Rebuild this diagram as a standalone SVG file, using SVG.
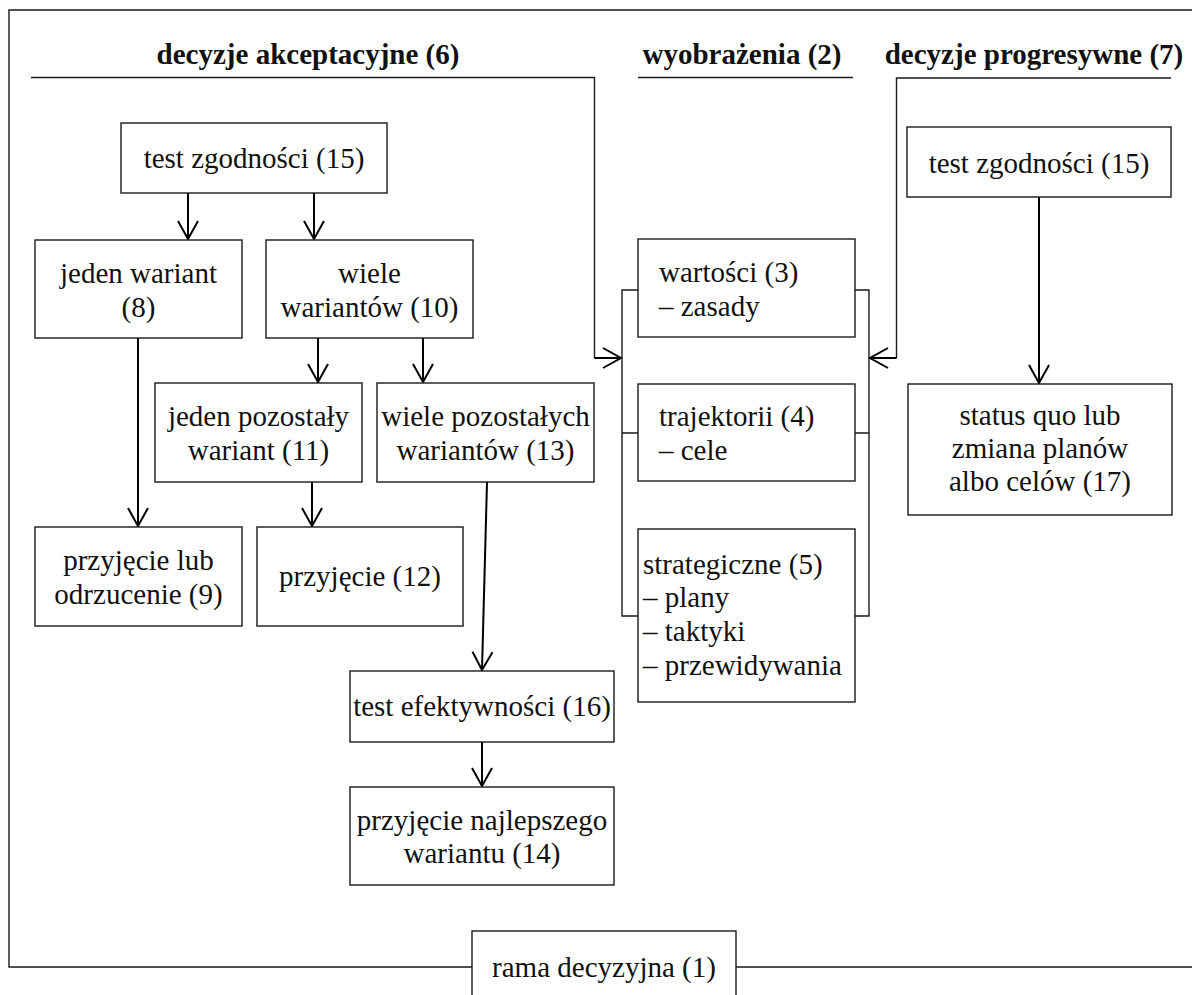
<svg xmlns="http://www.w3.org/2000/svg" width="1192" height="995" viewBox="0 0 1192 995">
  <style>
    .box { fill: #fff; stroke: #1a1a1a; stroke-width: 1.4; }
    .t { font-family: "Liberation Serif", "Times New Roman", serif; font-size: 29px; fill: #111; }
    .c { text-anchor: middle; }
    .h { font-weight: bold; text-anchor: middle; }
    .frame { fill: none; stroke: #1a1a1a; stroke-width: 1.4; }
    .arrow { fill: none; stroke: #000; stroke-width: 2; marker-end: url(#vhead); }
  </style>
  <defs>
    <!-- open V arrowhead -->
    <marker id="vhead" markerUnits="userSpaceOnUse" markerWidth="24" markerHeight="24" viewBox="-20 -12 22 24" refX="0" refY="0" orient="auto">
      <path d="M-18,-10 L0,0 L-18,10" fill="none" stroke="#000" stroke-width="2"/>
    </marker>
  </defs>

  <rect width="1192" height="995" fill="#fff"/>

  <!-- outer decision frame -->
  <g id="frame">
    <path class="frame" d="M1192,10 H9 V967 H472 M736,967 H1192"/>
  </g>

  <!-- section headings with rules -->
  <g id="headings">
    <text class="t h" x="308" y="64">decyzje akceptacyjne (6)</text>
    <text class="t h" x="742" y="64">wyobrażenia (2)</text>
    <text class="t h" x="1034" y="64">decyzje progresywne (7)</text>
    <path class="frame" d="M638,77.5 H853"/>
  </g>

  <!-- connectors -->
  <g id="connectors">
    <!-- feedback from acceptance decisions into images -->
    <path class="frame" d="M31,77.5 H594.5 V358"/>
    <path class="arrow" d="M594.5,358 H621"/>
    <!-- feedback from progressive decisions into images -->
    <path class="frame" d="M1171,78 H896.5 V358"/>
    <path class="arrow" d="M896.5,358 H870"/>
    <!-- brackets around the image boxes -->
    <path class="frame" d="M638,290 H622 V616 H638 M622,433 H638"/>
    <path class="frame" d="M855,290 H869 V616 H855 M869,433 H855"/>

    <path class="arrow" d="M188,193 V239"/>
    <path class="arrow" d="M314,193 V239"/>
    <path class="arrow" d="M138,338 V526"/>
    <path class="arrow" d="M318,338 V382"/>
    <path class="arrow" d="M423,338 V382"/>
    <path class="arrow" d="M312,482 V526"/>
    <path class="arrow" d="M487,482 L482,670"/>
    <path class="arrow" d="M482,742 V786"/>
    <path class="arrow" d="M1039,197 V383"/>
  </g>

  <!-- acceptance decisions -->
  <g id="n15a">
    <rect class="box" x="121" y="123" width="266" height="70"/>
    <text class="t c" x="254" y="168">test zgodności (15)</text>
  </g>
  <g id="n8">
    <rect class="box" x="35" y="240" width="207" height="98"/>
    <text class="t c" x="138.5" y="283">jeden wariant</text>
    <text class="t c" x="138.5" y="317">(8)</text>
  </g>
  <g id="n10">
    <rect class="box" x="266" y="240" width="207" height="98"/>
    <text class="t c" x="369.5" y="283">wiele</text>
    <text class="t c" x="369.5" y="317">wariantów (10)</text>
  </g>
  <g id="n11">
    <rect class="box" x="155" y="383" width="207" height="99"/>
    <text class="t c" x="258.5" y="426">jeden pozostały</text>
    <text class="t c" x="258.5" y="460">wariant (11)</text>
  </g>
  <g id="n13">
    <rect class="box" x="377" y="383" width="217" height="99"/>
    <text class="t c" x="485.5" y="426">wiele pozostałych</text>
    <text class="t c" x="485.5" y="460">wariantów (13)</text>
  </g>
  <g id="n9">
    <rect class="box" x="35" y="527" width="207" height="99"/>
    <text class="t c" x="138.5" y="570">przyjęcie lub</text>
    <text class="t c" x="138.5" y="604">odrzucenie (9)</text>
  </g>
  <g id="n12">
    <rect class="box" x="257" y="527" width="206" height="99"/>
    <text class="t c" x="360" y="586">przyjęcie (12)</text>
  </g>
  <g id="n16">
    <rect class="box" x="350" y="671" width="264" height="71"/>
    <text class="t c" x="482" y="716">test efektywności (16)</text>
  </g>
  <g id="n14">
    <rect class="box" x="350" y="787" width="264" height="98"/>
    <text class="t c" x="482" y="830">przyjęcie najlepszego</text>
    <text class="t c" x="482" y="863">wariantu (14)</text>
  </g>

  <!-- images -->
  <g id="n3">
    <rect class="box" x="638" y="239" width="217" height="98"/>
    <text class="t" x="659" y="282">wartości (3)</text>
    <text class="t" x="659" y="316">– zasady</text>
  </g>
  <g id="n4">
    <rect class="box" x="638" y="384" width="217" height="97"/>
    <text class="t" x="659" y="426">trajektorii (4)</text>
    <text class="t" x="659" y="460">– cele</text>
  </g>
  <g id="n5">
    <rect class="box" x="638" y="529" width="217" height="173"/>
    <text class="t" x="643" y="574">strategiczne (5)</text>
    <text class="t" x="643" y="607">– plany</text>
    <text class="t" x="643" y="641">– taktyki</text>
    <text class="t" x="643" y="675">– przewidywania</text>
  </g>

  <!-- progressive decisions -->
  <g id="n15b">
    <rect class="box" x="907" y="127" width="264" height="70"/>
    <text class="t c" x="1039" y="173">test zgodności (15)</text>
  </g>
  <g id="n17">
    <rect class="box" x="908" y="384" width="264" height="131"/>
    <text class="t c" x="1040" y="425">status quo lub</text>
    <text class="t c" x="1040" y="458">zmiana planów</text>
    <text class="t c" x="1040" y="491">albo celów (17)</text>
  </g>

  <!-- decision frame label -->
  <g id="n1">
    <rect class="box" x="472" y="931" width="264" height="75"/>
    <text class="t c" x="604" y="977">rama decyzyjna (1)</text>
  </g>
</svg>
